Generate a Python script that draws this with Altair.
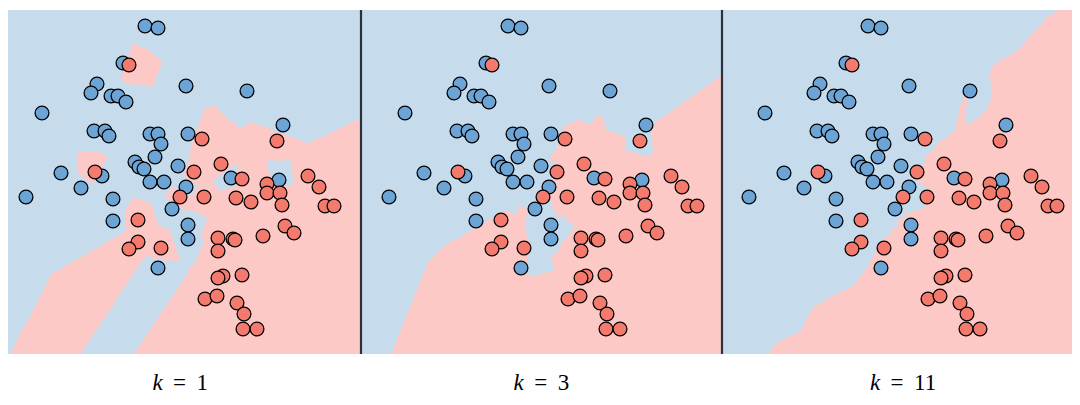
import altair as alt
import numpy as np
import pandas as pd

blue_x = [145, 158, 123, 97, 91, 111, 118, 126, 186, 247, 42, 94, 105, 109, 150, 158, 161, 188,
          283, 155, 135, 139, 144, 61, 102, 150, 164, 178, 186, 81, 26, 113, 172, 113, 188, 188,
          158, 231, 279]
blue_y = [24, 26, 61, 82, 91, 94, 94, 100, 84, 89, 111, 129, 129, 134, 132, 132, 142, 132,
          123, 155, 160, 165, 167, 171, 174, 180, 180, 164, 185, 186, 195, 197, 207, 219, 223, 237,
          266, 176, 178]
red_x = [129, 202, 277, 95, 221, 194, 242, 308, 319, 267, 267, 280, 282, 325, 334, 180, 204,
         236, 251, 138, 138, 129, 161, 218, 233, 235, 218, 263, 285, 294, 223, 218, 242, 205,
         217, 237, 244, 243, 257]
red_y = [63, 137, 139, 170, 162, 170, 177, 174, 185, 182, 191, 191, 203, 204, 204, 195, 195,
         196, 200, 218, 240, 247, 246, 236, 237, 238, 249, 234, 224, 231, 274, 276, 273, 297,
         294, 301, 312, 327, 327]

ks = [1, 3, 11]
labels = ["1", "3", "11"]

# Panel windows (in the same units) and their widths / heights on the page
x_domains = [[8, 361], [-2, 359], [-1, 349]]
widths = [353, 361, 350]
y_domain = [8, 352]
H = 344

BLUE_BG = "#c6dcec"
RED_BG = "#fdc9c6"
BLUE_PT = "#6ca4d6"
RED_PT = "#f47a6e"
SERIF = "Liberation Serif, DejaVu Serif, serif"

pts = np.array(list(zip(blue_x, blue_y)) + list(zip(red_x, red_y)), dtype=float)
lab = np.array([0] * len(blue_x) + [1] * len(red_x))

# Grid on which the k-nearest-neighbour vote is evaluated
step = 2.0
gx = np.arange(-4, 366, step)
gy = np.arange(0, 354, step)
cx = gx + step / 2
cy = gy + step / 2
GX, GY = np.meshgrid(cx, cy)
grid = np.stack([GX.ravel(), GY.ravel()], axis=1)
d2 = ((grid[:, None, :] - pts[None, :, :]) ** 2).sum(axis=2)
order = np.argsort(d2, axis=1)


def red_spans(k):
    nn = lab[order[:, :k]]
    pred = (nn.sum(axis=1) * 2 > k).reshape(len(cy), len(cx))
    rows = []
    for j in range(len(cy)):
        r = pred[j]
        i = 0
        n = len(r)
        while i < n:
            if r[i]:
                s = i
                while i < n and r[i]:
                    i += 1
                rows.append({"x": gx[s], "x2": gx[i - 1] + step,
                             "y": gy[j], "y2": gy[j] + step + 0.6})
            else:
                i += 1
    return pd.DataFrame(rows)


blue_df = pd.DataFrame({"x": blue_x, "y": blue_y})
red_df = pd.DataFrame({"x": red_x, "y": red_y})
one = pd.DataFrame({"a": [0]})

panels = []
for p, k in enumerate(ks):
    W = widths[p]
    xs = alt.Scale(domain=x_domains[p], nice=False, zero=False)
    ys = alt.Scale(domain=y_domain, nice=False, zero=False, reverse=True)

    regions = alt.Chart(red_spans(k)).mark_rect(clip=True, color=RED_BG, strokeWidth=0).encode(
        x=alt.X("x:Q", scale=xs, axis=None),
        x2="x2:Q",
        y=alt.Y("y:Q", scale=ys, axis=None),
        y2="y2:Q",
    )
    bpts = alt.Chart(blue_df).mark_circle(size=190, fill=BLUE_PT, stroke="black",
                                          strokeWidth=1.3, opacity=1).encode(
        x=alt.X("x:Q", scale=xs, axis=None),
        y=alt.Y("y:Q", scale=ys, axis=None),
    )
    rpts = alt.Chart(red_df).mark_circle(size=190, fill=RED_PT, stroke="black",
                                         strokeWidth=1.3, opacity=1).encode(
        x=alt.X("x:Q", scale=xs, axis=None),
        y=alt.Y("y:Q", scale=ys, axis=None),
    )

    c = [172.5, 180.7, 181.0][p]
    shift = -5 if len(labels[p]) > 1 else 0
    base_y = 380
    t_k = alt.Chart(one).mark_text(text="k", font=SERIF, fontStyle="italic",
                                   fontSize=23, align="center", baseline="alphabetic",
                                   color="black").encode(
        x=alt.value(c - 23 + shift), y=alt.value(base_y))
    t_eq = alt.Chart(one).mark_text(text="=", font=SERIF, fontSize=23,
                                    align="center", baseline="alphabetic",
                                    color="black").encode(
        x=alt.value(c - 1 + shift), y=alt.value(base_y))
    t_n = alt.Chart(one).mark_text(text=labels[p], font=SERIF, fontSize=23,
                                   align="left", baseline="alphabetic",
                                   color="black").encode(
        x=alt.value(c + 16 + shift), y=alt.value(base_y))

    layers = [regions, bpts, rpts, t_k, t_eq, t_n]
    if p > 0:
        sep = alt.Chart(one).mark_rule(color="#2b323b", strokeWidth=2.2).encode(
            x=alt.value(0), y=alt.value(0), y2=alt.value(H))
        layers.append(sep)
    panels.append(alt.layer(*layers).properties(width=W, height=H))

chart = alt.hconcat(*panels, spacing=0, bounds="flush").properties(padding=0).configure_view(
    fill=BLUE_BG, strokeWidth=0
)

chart.save("out.html", embed_options={"renderer": "svg", "actions": False})
